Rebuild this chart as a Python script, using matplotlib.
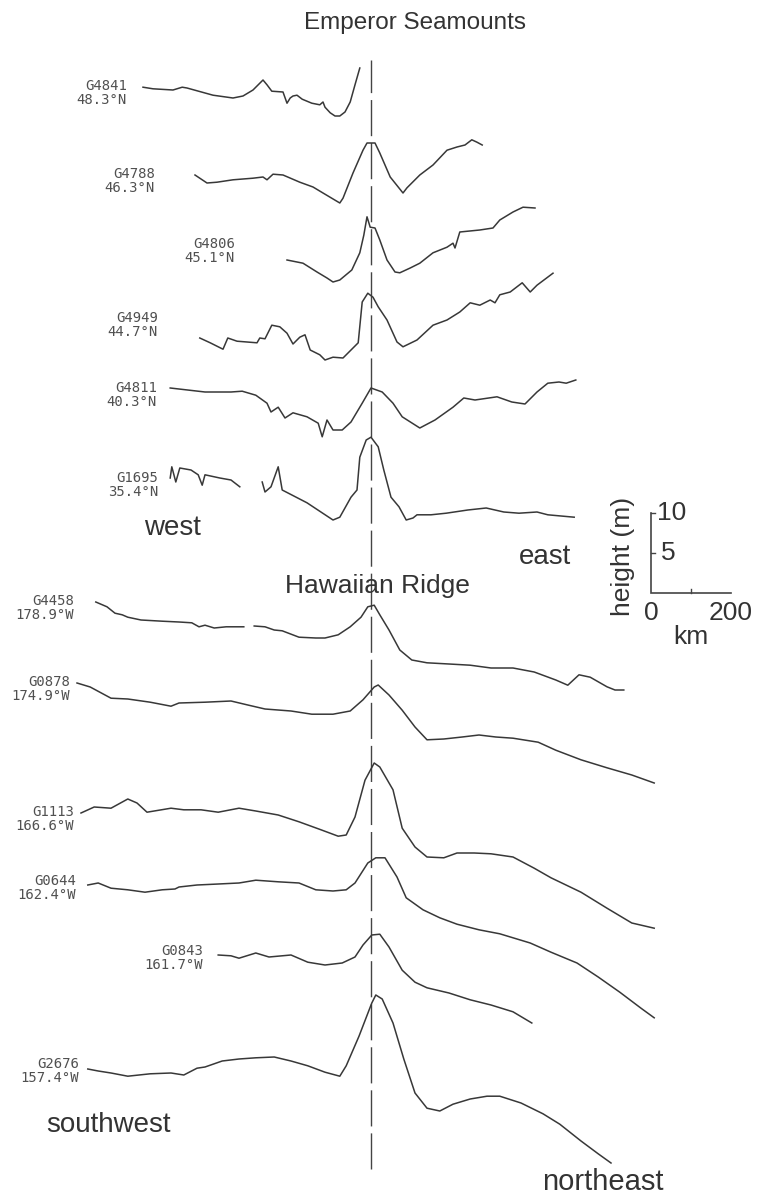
import matplotlib
matplotlib.use("Agg")
import matplotlib.pyplot as plt
import numpy as np

W, H = 757, 1196
DPI = 100

# ---------------------------------------------------------------
# Geoid height profiles across seamount chains.
# Distance along track in km (0 = chain axis), geoid height in m
# relative to the western end of each track.
# ---------------------------------------------------------------

# Emperor Seamounts (west -> east)
g4841_km = [-570, -545, -495, -472, -460, -395, -345, -320, -295, -270, -260, -248, -220,
            -210, -202, -195, -185, -172, -148, -128, -120, -115, -102, -90, -78, -65, -52, -40, -28]
g4841_m = [0.1, -0.1, -0.25, 0.1, 0.0, -0.9, -1.25, -1.0, -0.25, 1.0, 0.4, -0.4, -0.5,
           -1.9, -1.25, -1.0, -0.9, -1.4, -1.9, -2.1, -1.75, -2.4, -3.1, -3.5, -3.5, -3.0, -1.75, 0.4, 2.5]

g4788_km = [-440, -410, -385, -345, -295, -270, -260, -245, -220, -178, -145, -120, -78, -70,
            -45, -20, -10, 10, 22, 48, 60, 80, 90, 122, 155, 190, 215, 235, 252, 265, 278]
g4788_m = [0.0, -1.0, -0.9, -0.6, -0.4, -0.25, -0.6, 0.1, 0.0, -0.9, -1.5, -2.25, -3.5, -2.9,
           0.25, 3.1, 4.0, 4.0, 2.75, -0.25, -1.0, -2.25, -1.6, 0.0, 1.25, 3.1, 3.5, 3.75, 4.4, 4.1, 3.75]

g4806_km = [-210, -170, -135, -110, -95, -78, -48, -28, -18, -10, -2, 10, 22, 40, 60, 72, 98,
            122, 155, 190, 205, 210, 222, 272, 305, 322, 355, 380, 410]
g4806_m = [0.0, -0.4, -1.5, -2.25, -2.75, -2.5, -1.25, 0.9, 3.1, 5.4, 4.1, 4.0, 2.5, 0.0, -1.5,
           -1.6, -1.0, -0.4, 0.9, 1.6, 2.1, 1.5, 3.5, 3.75, 4.0, 5.0, 6.0, 6.6, 6.5]

g4949_km = [-428, -402, -370, -358, -335, -285, -278, -265, -248, -228, -210, -195, -178, -165,
            -152, -128, -115, -95, -70, -45, -32, -22, -8, 5, 18, 40, 65, 80, 115, 155, 190,
            222, 248, 272, 298, 310, 322, 348, 378, 398, 415, 455]
g4949_m = [0.0, -0.6, -1.4, 0.0, -0.4, -0.6, 0.0, -0.1, 1.6, 1.4, 0.6, -0.75, 0.1, 0.4,
           -1.5, -2.1, -2.75, -2.4, -2.5, -1.25, -0.6, 4.5, 5.6, 5.1, 3.9, 2.25, -0.5, -1.1,
           -0.25, 1.6, 2.25, 3.25, 4.4, 4.1, 4.75, 4.4, 5.4, 5.75, 6.9, 5.75, 6.6, 8.1]

g4811_km = [-502, -415, -350, -322, -288, -260, -250, -232, -215, -195, -160, -132, -122, -110,
            -95, -72, -50, -22, 0, 28, 55, 78, 122, 160, 205, 232, 260, 315, 352, 385, 415,
            442, 470, 488, 512]
g4811_m = [0.0, -0.5, -0.5, -0.4, -0.9, -1.9, -3.0, -2.4, -3.75, -3.1, -3.6, -4.4, -6.1, -4.0,
           -5.25, -5.25, -4.25, -1.9, 0.0, -0.5, -1.9, -3.6, -5.0, -4.0, -2.4, -1.25, -1.5,
           -1.1, -1.75, -2.0, -0.5, 0.6, 0.75, 0.6, 1.0]

# G1695 has a data gap west of the chain
g1695_km_w = [-502, -498, -488, -478, -450, -432, -422, -415, -378, -350, -328]
g1695_m_w = [0.0, 1.4, -0.5, 1.25, 1.0, 0.4, -0.9, 0.4, 0.0, -0.25, -1.1]
g1695_km_e = [-272, -265, -250, -232, -222, -160, -95, -78, -50, -35, -28, -12, 0, 18, 32,
              50, 70, 88, 105, 115, 150, 188, 242, 288, 332, 370, 415, 442, 508]
g1695_m_e = [-0.5, -1.75, -1.1, 1.4, -1.5, -3.1, -5.25, -4.9, -2.4, -1.5, 2.6, 4.75, 5.1,
             3.9, 1.0, -2.4, -3.6, -5.25, -5.0, -4.6, -4.6, -4.4, -4.0, -3.75, -4.25, -4.4,
             -4.25, -4.6, -4.9]

# Hawaiian Ridge (southwest -> northeast)
g4458_km_w = [-688, -660, -640, -622, -608, -575, -522, -480, -448, -430, -415, -392, -362, -318]
g4458_m_w = [0.0, -0.6, -1.4, -1.6, -1.9, -2.25, -2.4, -2.5, -2.6, -3.1, -2.9, -3.25, -3.1, -3.1]
g4458_km_e = [-292, -265, -242, -222, -180, -138, -115, -82, -52, -25, -8, 8, 22, 45, 72,
              102, 140, 195, 248, 300, 355, 408, 462, 492, 520, 548, 590, 610, 632]
g4458_m_e = [-3.0, -3.1, -3.5, -3.6, -4.4, -4.5, -4.5, -4.1, -3.1, -1.9, -0.6, -0.4, -1.6,
             -3.5, -6.0, -7.25, -7.6, -7.75, -7.9, -8.25, -8.25, -8.75, -9.75, -10.4, -9.1,
             -9.4, -10.6, -11.0, -11.0]

g0878_km = [-735, -702, -650, -608, -552, -500, -480, -415, -350, -308, -265, -200, -148, -95,
            -52, -20, 8, 18, 45, 78, 110, 140, 182, 228, 270, 312, 355, 418, 462, 525, 590, 652, 708]
g0878_m = [0.0, -0.5, -1.9, -2.0, -2.4, -2.9, -2.5, -2.4, -2.25, -2.75, -3.25, -3.5, -3.9, -3.9,
           -3.5, -2.1, -0.5, -0.25, -1.5, -3.4, -5.5, -7.1, -7.0, -6.75, -6.5, -6.75, -6.9,
           -7.4, -8.4, -9.6, -10.6, -11.5, -12.5]

g1113_km = [-725, -692, -650, -608, -585, -560, -500, -468, -425, -382, -330, -288, -232, -180,
            -125, -82, -62, -40, -15, 8, 22, 55, 78, 110, 140, 182, 215, 258, 300, 355, 408,
            450, 525, 590, 652, 708]
g1113_m = [0.0, 0.75, 0.6, 1.75, 1.25, 0.1, 0.6, 0.4, 0.4, 0.1, 0.6, 0.25, -0.25, -1.1, -2.1,
           -2.9, -2.75, -0.5, 4.1, 6.25, 5.75, 2.9, -1.9, -4.25, -5.5, -5.6, -5.0, -5.0, -5.1,
           -5.5, -6.9, -8.1, -9.9, -11.9, -13.75, -14.4]

g0644_km = [-708, -682, -650, -608, -565, -522, -490, -480, -435, -392, -330, -288, -232, -180,
            -138, -95, -62, -40, -8, 12, 35, 65, 88, 130, 172, 215, 270, 322, 398, 450, 515,
            568, 622, 675, 708]
g0644_m = [0.0, 0.25, -0.4, -0.6, -0.9, -0.6, -0.5, -0.25, 0.0, 0.1, 0.25, 0.6, 0.4, 0.25,
           -0.6, -0.75, -0.6, 0.25, 2.75, 3.4, 3.4, 1.0, -1.6, -3.1, -4.1, -4.9, -5.6, -6.1,
           -7.25, -8.4, -9.75, -11.5, -13.4, -15.4, -16.6]

g0843_km = [-382, -350, -330, -288, -255, -200, -158, -115, -72, -40, -20, 2, 22, 45, 78, 110,
            140, 195, 248, 300, 355, 402]
g0843_m = [0.0, -0.1, -0.4, 0.25, -0.25, 0.0, -0.9, -1.25, -1.0, -0.25, 1.25, 2.5, 2.6, 1.0,
           -1.9, -3.4, -4.1, -4.75, -5.6, -6.25, -7.1, -8.5]

g2676_km = [-708, -682, -650, -608, -552, -500, -468, -435, -415, -372, -330, -288, -242, -200,
            -158, -115, -78, -62, -30, 2, 12, 28, 55, 82, 110, 140, 172, 205, 248, 290, 322,
            375, 430, 472, 525, 568, 600]
g2676_m = [0.0, -0.25, -0.5, -0.9, -0.6, -0.5, -0.75, 0.1, 0.25, 1.0, 1.25, 1.4, 1.5, 1.0, 0.4,
           -0.4, -0.9, 0.4, 4.1, 8.25, 9.25, 8.75, 5.75, 1.25, -3.0, -4.9, -5.25, -4.4, -3.75,
           -3.4, -3.4, -4.25, -5.6, -6.9, -9.0, -10.6, -11.75]

track_ids = ["G4841", "G4788", "G4806", "G4949", "G4811", "G1695",
             "G4458", "G0878", "G1113", "G0644", "G0843", "G2676"]
track_locs = ["48.3°N", "46.3°N", "45.1°N", "44.7°N", "40.3°N", "35.4°N",
              "178.9°W", "174.9°W", "166.6°W", "162.4°W", "161.7°W", "157.4°W"]

segments = [
    [(g4841_km, g4841_m)],
    [(g4788_km, g4788_m)],
    [(g4806_km, g4806_m)],
    [(g4949_km, g4949_m)],
    [(g4811_km, g4811_m)],
    [(g1695_km_w, g1695_m_w), (g1695_km_e, g1695_m_e)],
    [(g4458_km_w, g4458_m_w), (g4458_km_e, g4458_m_e)],
    [(g0878_km, g0878_m)],
    [(g1113_km, g1113_m)],
    [(g0644_km, g0644_m)],
    [(g0843_km, g0843_m)],
    [(g2676_km, g2676_m)],
]

# Layout: vertical stacking offset (m) of each track, label anchor (px)
stack_offset = [138.5, 127.625, 117.0, 107.25, 101.0, 89.75,
                74.25, 64.125, 47.875, 38.875, 30.125, 15.875]
label_anchor = [(127, 93), (155, 181), (235, 251), (158, 325), (157, 395), (158, 485),
                (74, 608), (70, 689), (74, 819), (76, 888), (203, 958), (79, 1071)]

# Plot scale: 0.4 px per km, 8 px per m; chain axis at x = 371 px
PX_PER_KM = 0.4
PX_PER_M = 8.0
AXIS_PX = 371

LINE_C = "#383838"
TEXT_C = "#333333"
BIG = "Liberation Sans"

fig = plt.figure(figsize=(W / DPI, H / DPI), dpi=DPI)
ax = fig.add_axes([0, 0, 1, 1])
ax.set_xlim(-AXIS_PX / PX_PER_KM, (W - AXIS_PX) / PX_PER_KM)
ax.set_ylim(0, H / PX_PER_M)
ax.axis("off")


def fig_xy(px, py):
    return px / W, 1 - py / H


def data_y(py):
    return (H - py) / PX_PER_M


# chain axis
ax.plot([0, 0], [data_y(1169), data_y(60)], color="#444444", lw=1.0,
        ls=(0, (26, 5)), zorder=1)

for segs, off in zip(segments, stack_offset):
    for km, m in segs:
        ax.plot(km, np.asarray(m) + off, color=LINE_C, lw=1.1,
                solid_joinstyle="round", zorder=2)

for tid, loc, (px, py) in zip(track_ids, track_locs, label_anchor):
    x, y = fig_xy(px, py)
    fig.text(x, y, f"{tid}\n{loc}", ha="right", va="center", multialignment="right",
             family="DejaVu Sans Mono", fontsize=10, color="#505050", linespacing=0.95)

# section titles and direction words
for txt, px, py, fs in [("Emperor Seamounts", 415, 23, 17.5),
                        ("Hawaiian Ridge", 377, 586, 19)]:
    x, y = fig_xy(px, py)
    fig.text(x, y, txt, ha="center", va="center", family=BIG, fontsize=fs, color=TEXT_C)

for txt, px, py, fs in [("west", 172, 528, 20), ("east", 545, 557, 20),
                        ("southwest", 108, 1125, 20), ("northeast", 603, 1182, 21)]:
    x, y = fig_xy(px, py)
    fig.text(x, y, txt, ha="center", va="center", family=BIG, fontsize=fs, color=TEXT_C)

# scale bar
SCALE_KM = 200
SCALE_M = 10
x0 = (651 - AXIS_PX) / PX_PER_KM
y0 = data_y(593)
ax.plot([x0, x0, x0 + SCALE_KM], [y0 + SCALE_M, y0, y0], color="#444444", lw=1.2,
        solid_joinstyle="miter")
tick_km = 4 / PX_PER_KM
tick_m = 4 / PX_PER_M
for hm in (SCALE_M / 2, SCALE_M):
    ax.plot([x0, x0 + tick_km], [y0 + hm, y0 + hm], color="#444444", lw=1.0)
ax.plot([x0 + SCALE_KM / 2] * 2, [y0, y0 + tick_m], color="#444444", lw=1.0)

ax.text(x0 + 6 / PX_PER_KM, y0 + SCALE_M, f"{SCALE_M}", ha="left", va="center",
        family=BIG, fontsize=19, color=TEXT_C)
ax.text(x0 + 10 / PX_PER_KM, y0 + SCALE_M / 2, f"{SCALE_M // 2}", ha="left", va="center",
        family=BIG, fontsize=19, color=TEXT_C)
ax.text(x0, y0 - 20 / PX_PER_M, "0", ha="center", va="center",
        family=BIG, fontsize=19, color=TEXT_C)
ax.text(x0 + SCALE_KM, y0 - 20 / PX_PER_M, f"{SCALE_KM}", ha="center", va="center",
        family=BIG, fontsize=19, color=TEXT_C)
ax.text(x0 + SCALE_KM / 2, y0 - 44 / PX_PER_M, "km", ha="center", va="center",
        family=BIG, fontsize=19, color=TEXT_C)
ax.text(x0 - 28 / PX_PER_KM, y0 + 4.6, "height (m)", ha="center", va="center",
        rotation=90, family=BIG, fontsize=19, color=TEXT_C)

fig.savefig("out.png", dpi=DPI, facecolor="white")
